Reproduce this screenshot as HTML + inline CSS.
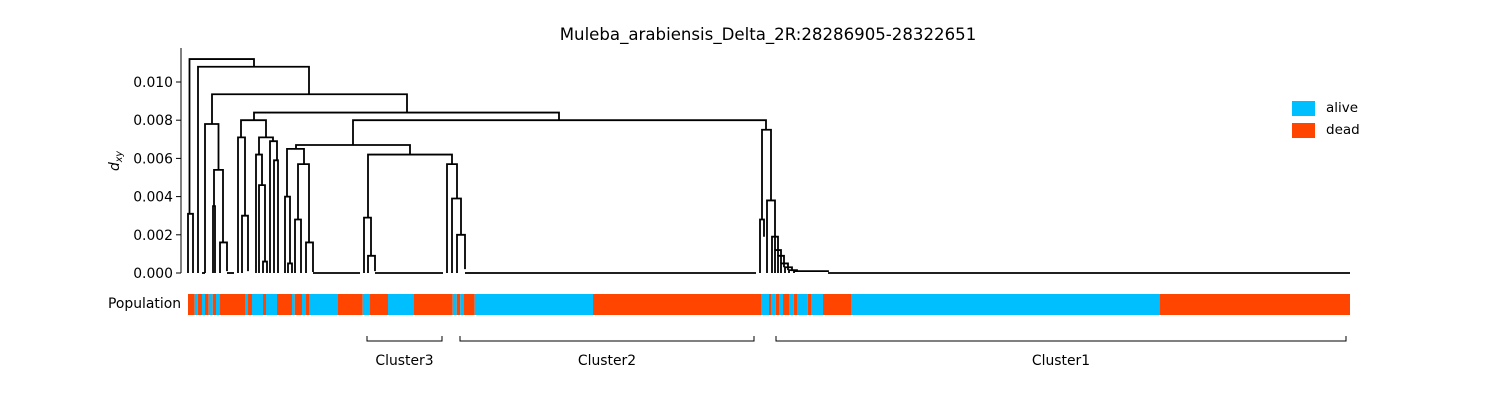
<!DOCTYPE html>
<html><head><meta charset="utf-8"><style>
body{margin:0;background:#fff}
svg{display:block;font-family:"DejaVu Sans","Liberation Sans",sans-serif}
</style></head><body>
<svg id="chart" width="1500" height="400" xmlns="http://www.w3.org/2000/svg">
<text x="768" y="40" font-size="16.6" text-anchor="middle">Muleba_arabiensis_Delta_2R:28286905-28322651</text>
<g id="marks"></g>
<g id="legend">
<rect x="1292" y="101" width="23" height="15" fill="#00bfff"/>
<text x="1326" y="112" font-size="13.5">alive</text>
<rect x="1292" y="123" width="23" height="15" fill="#ff4500"/>
<text x="1326" y="134" font-size="13.5">dead</text>
</g>
</svg>
<script>
const yTicks=[0,0.002,0.004,0.006,0.008,0.010];
const yTickLabels=["0.000","0.002","0.004","0.006","0.008","0.010"];
// links: [xLeft, hLeftChild, xRight, hRightChild, h] (x in leaf units, h in 1e-3)
const linkXL=[0,1.5,10,24,17,26,25,32,66,53,50,54,71,68,71,75,82,86,165,108,99,97,100,110,107,118,180,176,180,259,264,269,574,572,579,584,587,590,593,597,601,606];
const linkHL=[0,3.1,0,7.8,0,3.5,0,0,8.0,7.1,0,0,6.2,0,0,0,0,0,6.7,6.5,4.0,0,0,2.8,0,0,2.9,0,0,0,0,0,2.8,0,0,0,0,0,0,0,0,0];
const linkXR=[5,66,121,219,30.5,35,27,39,371,78,57,60,85,74,77,79,89,90,578,222,116,102,104,121,113,125,264,183,187,269,273,277,583,576,587,590,593,596,600,604,609,640];
const linkHR=[0,10.8,9.36,8.4,5.4,1.6,0,0.1,8.0,7.1,3.0,0.1,6.9,4.6,0.6,0,5.9,0,7.5,6.2,5.7,0.5,0,1.6,0,0.05,5.7,0.9,0.1,3.9,2.0,0.2,3.8,1.9,1.2,0.9,0.5,0.3,0.15,0.1,0.07,0.05];
const linkH=[3.1,11.2,10.8,9.36,7.8,5.4,3.5,1.6,8.4,8.0,7.1,3.0,7.1,6.2,4.6,0.6,6.9,5.9,8.0,6.7,6.5,4.0,0.5,5.7,2.8,1.6,6.2,2.9,0.9,5.7,3.9,2.0,7.5,2.8,3.8,1.9,1.2,0.9,0.5,0.3,0.15,0.1];
const zeroStart=[14,39,125,187,277,292,640];
const zeroEnd=[17,46,172,255,292,568,1162];
// population segments: boundaries in leaf units and status
const popStart=[0,6.7,9.7,14,17,20.7,24.7,28,32,57,60,64,75,78,89,104,106.7,114,118,121,150,174.7,182,200,226,264.7,268.7,272.3,276,286.7,405,573.7,581,583.7,587.7,591.7,595,601.7,605.7,609,619.7,623.7,635,663,972];
const popAlive=[0,1,0,1,0,1,0,1,0,1,0,1,0,1,0,1,0,1,0,1,0,1,0,1,0,1,0,1,0,1,0,1,0,1,0,1,0,1,0,1,0,1,0,1,0];
const clusterNames=["Cluster3","Cluster2","Cluster1"];
const clusterStart=[179,272,588];
const clusterEnd=[254,566,1158];

const NS="http://www.w3.org/2000/svg";
const g=document.getElementById('marks');
const X0=188,XW=1162,Y0=273,YPX=191/0.010;
const xs=v=>X0+v*(XW/1162);
const ys=v=>Y0-v*YPX;
function mk(tag,attrs,parent){const e=document.createElementNS(NS,tag);for(const k in attrs)e.setAttribute(k,attrs[k]);(parent||g).appendChild(e);return e;}

const ax=mk('line',{x1:181,y1:48,x2:181,y2:273,stroke:'#000','stroke-width':1});


yTicks.forEach((t,i)=>{
  const tk=mk('line',{x1:176,x2:181,y1:ys(t),y2:ys(t),stroke:'#000'});
  
  
  const tl=mk('text',{x:173,y:ys(t)+5,'font-size':13.9,'text-anchor':'end'});
  tl.textContent=yTickLabels[i];
  
  
});
const yl=mk('text',{x:0,y:0,'font-size':13.9,transform:'translate(119,161) rotate(-90)','text-anchor':'middle'});
yl.innerHTML='<tspan font-style="italic">d</tspan><tspan font-size="9.5" dy="3" font-style="italic">xy</tspan>';



for(let i=0;i<linkH.length;i++){
  const h=linkH[i]/1000,hl=linkHL[i]/1000,hr=linkHR[i]/1000;
  const p=mk('path',{d:`M${xs(linkXL[i])},${ys(hl)}V${ys(h)}H${xs(linkXR[i])}V${ys(hr)}`,fill:'none',stroke:'#000','stroke-width':1.8});
  
  
}
for(let i=0;i<zeroStart.length;i++){
  const p=mk('line',{x1:xs(zeroStart[i]),x2:xs(zeroEnd[i]),y1:ys(0),y2:ys(0),stroke:'#000','stroke-width':1.8});
  
  
}

const pl=mk('text',{x:181,y:308,'font-size':13.9,'text-anchor':'end'});
pl.textContent='Population';


for(let i=0;i<popStart.length;i++){
  const s=popStart[i],e=i+1<popStart.length?popStart[i+1]:1162;
  const r=mk('rect',{x:xs(s),y:294,width:xs(e)-xs(s),height:21,fill:popAlive[i]?'#00bfff':'#ff4500'});
  
  
}

clusterNames.forEach((n,i)=>{
  const a=xs(clusterStart[i]),b=xs(clusterEnd[i]);
  const p=mk('path',{d:`M${a},336V341H${b}V336`,fill:'none',stroke:'#000','stroke-width':1});
  
  
  const t=mk('text',{x:(a+b)/2,y:365,'font-size':13.9,'text-anchor':'middle'});
  t.textContent=n;
  
  
});
</script>
</body></html>
